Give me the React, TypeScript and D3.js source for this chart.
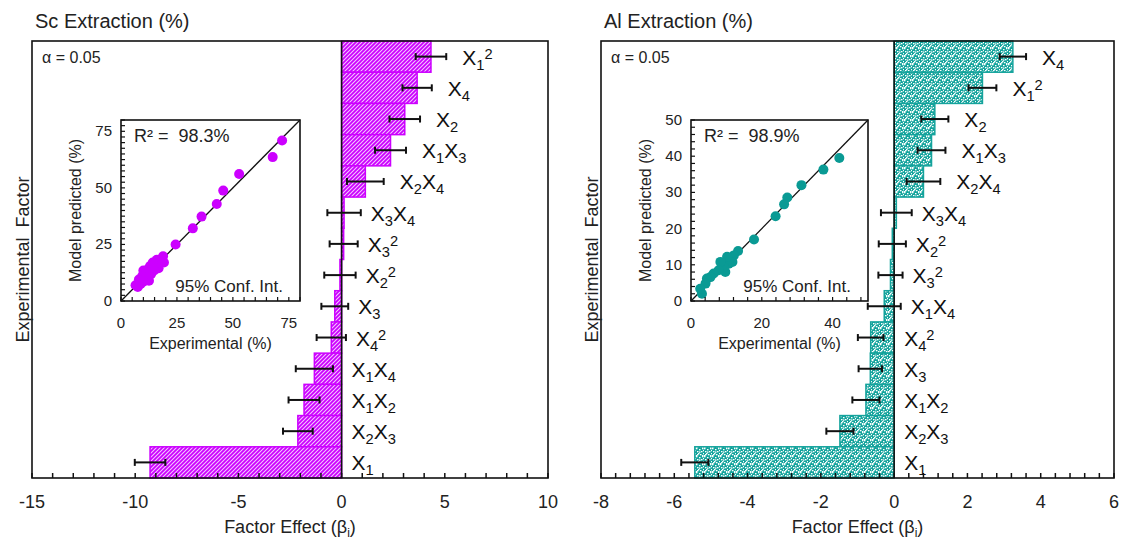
import React, { useEffect, useRef } from "react"
import * as d3 from "d3"

// Sc extraction: factor effects (top to bottom) and 95% half-widths
const scFactors = ["X1^2", "X4", "X2", "X1X3", "X2X4", "X3X4", "X3^2", "X2^2", "X3", "X4^2", "X1X4", "X1X2", "X2X3", "X1"]
const scEffects = [4.33, 3.66, 3.06, 2.37, 1.15, 0.12, 0.1, -0.08, -0.33, -0.5, -1.32, -1.82, -2.12, -9.28]
const scErrors = [0.74, 0.71, 0.74, 0.75, 0.89, 0.81, 0.68, 0.76, 0.65, 0.71, 0.9, 0.75, 0.72, 0.74]

// Al extraction
const alFactors = ["X4", "X1^2", "X2", "X1X3", "X2X4", "X3X4", "X2^2", "X3^2", "X1X4", "X4^2", "X3", "X1X2", "X2X3", "X1"]
const alEffects = [3.24, 2.41, 1.11, 1.02, 0.8, 0.06, -0.05, -0.1, -0.27, -0.64, -0.65, -0.77, -1.48, -5.44]
const alErrors = [0.36, 0.38, 0.37, 0.38, 0.46, 0.42, 0.37, 0.33, 0.45, 0.35, 0.32, 0.37, 0.37, 0.37]

// parity plots (experimental vs model predicted)
const scExp = [72.0, 67.8, 52.8, 45.7, 42.8, 36.0, 32.1, 24.4, 18.8, 19.2, 17.5, 16.8, 16.0, 15.5, 14.8, 14.2, 13.5, 13.0, 12.5, 12.0, 11.5, 10.8, 10.2, 10.0, 9.5, 8.8, 8.0, 7.5, 6.5]
const scPred = [70.9, 63.6, 56.1, 48.8, 42.9, 37.3, 32.1, 25.0, 19.8, 17.0, 16.8, 14.5, 18.2, 16.0, 13.5, 17.0, 12.0, 15.5, 9.0, 14.0, 10.2, 12.5, 8.6, 13.5, 11.0, 7.5, 9.5, 6.2, 7.0]
const alExp = [41.9, 37.4, 31.2, 27.2, 26.3, 23.9, 17.8, 13.3, 12.1, 11.7, 10.7, 10.2, 9.7, 9.3, 8.3, 7.8, 6.4, 5.5, 4.5, 4.1, 3.1, 2.6]
const alPred = [39.5, 36.3, 32.0, 28.6, 26.7, 23.4, 17.0, 13.8, 12.6, 10.8, 10.3, 12.2, 8.0, 9.4, 10.8, 8.5, 7.6, 6.6, 6.2, 4.8, 2.0, 3.4]

const FONT = "'Liberation Sans', Arial, sans-serif"
const INK = "#222"

function factorLabel(text, label, size) {
  const parts = []
  const re = /X(\d)(\^2)?/g
  let m
  while ((m = re.exec(label))) {
    parts.push({ t: "X", s: size, o: 0 })
    parts.push({ t: m[1], s: size * 0.7, o: 5 })
    if (m[2]) parts.push({ t: "2", s: size * 0.7, o: -6 })
  }
  let cur = 0
  parts.forEach(p => {
    text.append("tspan").attr("font-size", p.s).attr("dy", p.o - cur).text(p.t)
    cur = p.o
  })
}

function drawPanel(svg, c) {
  const g = svg.append("g")
  const x = d3.scaleLinear().domain(c.domain).range([c.left, c.right])
  const y = d3.scaleBand().domain(c.factors).range([c.top, c.bottom]).padding(0)

  // bars
  g.selectAll("rect.bar")
    .data(c.effects)
    .join("rect")
    .attr("x", d => x(Math.min(0, d)))
    .attr("y", (d, i) => y(c.factors[i]))
    .attr("width", d => Math.abs(x(d) - x(0)))
    .attr("height", y.bandwidth())
    .attr("fill", `url(#${c.pattern})`)
    .attr("stroke", c.color)
    .attr("stroke-width", 1.5)

  // error bars + factor labels
  c.effects.forEach((d, i) => {
    const cy = y(c.factors[i]) + y.bandwidth() / 2
    const x1 = x(d - c.errors[i])
    const x2 = x(d + c.errors[i])
    const eb = g.append("g").attr("stroke", "#111").attr("stroke-width", 2)
    eb.append("line").attr("x1", x1).attr("x2", x2).attr("y1", cy).attr("y2", cy)
    eb.append("line").attr("x1", x1).attr("x2", x1).attr("y1", cy - 3.5).attr("y2", cy + 3.5)
    eb.append("line").attr("x1", x2).attr("x2", x2).attr("y1", cy - 3.5).attr("y2", cy + 3.5)

    const edge = Math.max(x(0), x(d), x2)
    const lx = edge + (edge - x(0) > 30 ? 16 : 10)
    const t = g.append("text")
      .attr("x", lx)
      .attr("y", cy + 8)
      .attr("fill", "#111")
      .attr("font-family", FONT)
    factorLabel(t, c.factors[i], 21)
  })

  // zero line
  g.append("line")
    .attr("x1", x(0)).attr("x2", x(0))
    .attr("y1", c.top).attr("y2", c.bottom)
    .attr("stroke", "#111").attr("stroke-width", 1.6)

  // minor ticks
  g.selectAll("line.tick")
    .data(c.minor)
    .join("line")
    .attr("x1", d => x(d)).attr("x2", d => x(d))
    .attr("y1", c.bottom).attr("y2", c.bottom - 5)
    .attr("stroke", "#111").attr("stroke-width", 1.5)

  // frame
  g.append("rect")
    .attr("x", c.left).attr("y", c.top)
    .attr("width", c.right - c.left).attr("height", c.bottom - c.top)
    .attr("fill", "none").attr("stroke", "#111").attr("stroke-width", 1.6)

  g.selectAll("text.xt")
    .data(c.ticks)
    .join("text")
    .attr("x", d => x(d))
    .attr("y", c.bottom + 30)
    .attr("text-anchor", "middle")
    .attr("font-family", FONT)
    .attr("font-size", 18)
    .attr("fill", INK)
    .text(d => String(d))

  const xt = g.append("text")
    .attr("x", (c.left + c.right) / 2)
    .attr("y", 533)
    .attr("text-anchor", "middle")
    .attr("font-family", FONT)
    .attr("font-size", 18)
    .attr("fill", INK)
  xt.append("tspan").text("Factor Effect (β")
  xt.append("tspan").attr("font-size", 12).attr("dy", 4).text("i")
  xt.append("tspan").attr("dy", -4).text(")")

  g.append("text")
    .attr("transform", `translate(${c.left - 3},${(c.top + c.bottom) / 2}) rotate(-90)`)
    .attr("text-anchor", "middle")
    .attr("font-family", FONT)
    .attr("font-size", 18)
    .attr("fill", INK)
    .attr("xml:space", "preserve")
    .text("Experimental  Factor")

  g.append("text")
    .attr("x", c.left + 3)
    .attr("y", 28)
    .attr("font-family", FONT)
    .attr("font-size", 20)
    .attr("fill", INK)
    .text(c.title)

  g.append("text")
    .attr("x", c.left + 10)
    .attr("y", 63)
    .attr("font-family", FONT)
    .attr("font-size", 16)
    .attr("fill", INK)
    .text("α = 0.05")

  // inset parity plot
  const s = c.inset
  const ix = d3.scaleLinear().domain([0, s.max]).range([s.x0, s.x1])
  const iy = d3.scaleLinear().domain([0, s.max]).range([s.y1, s.y0])
  const ig = svg.append("g")
  ig.append("rect")
    .attr("x", s.x0).attr("y", s.y0)
    .attr("width", s.x1 - s.x0).attr("height", s.y1 - s.y0)
    .attr("fill", "#fff")
  ig.append("line")
    .attr("x1", ix(0)).attr("y1", iy(0)).attr("x2", ix(s.max)).attr("y2", iy(s.max))
    .attr("stroke", "#111").attr("stroke-width", 1.3)
  ig.selectAll("circle")
    .data(s.exp)
    .join("circle")
    .attr("cx", d => ix(d))
    .attr("cy", (d, i) => iy(s.pred[i]))
    .attr("r", 5)
    .attr("fill", c.dot)
  ig.selectAll("line.mx")
    .data(d3.range(0, s.max + 0.001, s.minorX))
    .join("line")
    .attr("x1", d => ix(d)).attr("x2", d => ix(d))
    .attr("y1", s.y1).attr("y2", s.y1 - 4)
    .attr("stroke", "#111").attr("stroke-width", 1.2)
  ig.selectAll("line.my")
    .data(d3.range(0, s.max + 0.001, s.minorY))
    .join("line")
    .attr("y1", d => iy(d)).attr("y2", d => iy(d))
    .attr("x1", s.x0).attr("x2", s.x0 + 4)
    .attr("stroke", "#111").attr("stroke-width", 1.2)
  ig.append("rect")
    .attr("x", s.x0).attr("y", s.y0)
    .attr("width", s.x1 - s.x0).attr("height", s.y1 - s.y0)
    .attr("fill", "none").attr("stroke", "#111").attr("stroke-width", 1.6)
  ig.selectAll("text.ixt")
    .data(s.xTicks)
    .join("text")
    .attr("x", d => ix(d)).attr("y", s.y1 + 27)
    .attr("text-anchor", "middle")
    .attr("font-family", FONT).attr("font-size", 15).attr("fill", INK)
    .text(d => String(d))
  ig.selectAll("text.iyt")
    .data(s.yTicks)
    .join("text")
    .attr("x", s.x0 - 9).attr("y", d => iy(d) + 5)
    .attr("text-anchor", "end")
    .attr("font-family", FONT).attr("font-size", 15).attr("fill", INK)
    .text(d => String(d))
  ig.append("text")
    .attr("x", (s.x0 + s.x1) / 2).attr("y", s.y1 + 48)
    .attr("text-anchor", "middle")
    .attr("font-family", FONT).attr("font-size", 16).attr("fill", INK)
    .text("Experimental (%)")
  ig.append("text")
    .attr("transform", `translate(${s.x0 - 40},${(s.y0 + s.y1) / 2}) rotate(-90)`)
    .attr("text-anchor", "middle")
    .attr("font-family", FONT).attr("font-size", 16).attr("fill", INK)
    .text("Model predicted (%)")
  ig.append("text")
    .attr("x", s.x0 + 13).attr("y", s.y0 + 22)
    .attr("font-family", FONT).attr("font-size", 18).attr("fill", INK)
    .attr("xml:space", "preserve")
    .text(`R² =  ${s.r2}`)
  ig.append("text")
    .attr("x", s.x1 - 17).attr("y", s.y1 - 9)
    .attr("text-anchor", "end")
    .attr("font-family", FONT).attr("font-size", 17).attr("fill", INK)
    .text("95% Conf. Int.")
}

export default function App() {
  const ref = useRef(null)

  useEffect(() => {
    document.body.style.margin = "0"
    const svg = d3.select(ref.current)
    svg.selectAll("*").remove()

    const defs = svg.append("defs")
    const hatch = defs.append("pattern")
      .attr("id", "hatchSc")
      .attr("width", 4).attr("height", 4)
      .attr("patternUnits", "userSpaceOnUse")
    hatch.append("rect").attr("width", 4).attr("height", 4).attr("fill", "#cc00ff")
    hatch.append("path").attr("d", "M-1,1 l2,-2 M0,4 l4,-4 M3,5 l2,-2")
      .attr("stroke", "#f4c4ff").attr("stroke-width", 1.1)

    const conf = defs.append("pattern")
      .attr("id", "confAl")
      .attr("width", 8).attr("height", 8)
      .attr("patternUnits", "userSpaceOnUse")
    conf.append("rect").attr("width", 8).attr("height", 8).attr("fill", "#14a39c")
    const specks = [[0, 0], [3, 1], [6, 0], [1, 3], [5, 3], [2, 5], [7, 5], [4, 6], [0, 7], [6, 7], [3, 3.5], [7, 2], [1, 6]]
    specks.forEach(([sx, sy]) => {
      conf.append("rect").attr("x", sx).attr("y", sy).attr("width", 1.5).attr("height", 1.3).attr("fill", "#fff")
    })

    drawPanel(svg, {
      left: 32, right: 548, top: 41, bottom: 478,
      domain: [-15, 10],
      ticks: [-15, -10, -5, 0, 5, 10],
      minor: d3.range(-15, 10.001, 1),
      factors: scFactors, effects: scEffects, errors: scErrors,
      pattern: "hatchSc", color: "#cc00ff", dot: "#cc00ff",
      title: "Sc Extraction (%)",
      inset: {
        x0: 121, x1: 300, y0: 120, y1: 301, max: 80,
        xTicks: [0, 25, 50, 75], yTicks: [0, 25, 50, 75],
        minorX: 5, minorY: 2.5,
        exp: scExp, pred: scPred, r2: "98.3%",
      },
    })

    drawPanel(svg, {
      left: 601, right: 1114, top: 41, bottom: 478,
      domain: [-8, 6],
      ticks: [-8, -6, -4, -2, 0, 2, 4, 6],
      minor: d3.range(0, 36).map(i => -8 + i * 0.4),
      factors: alFactors, effects: alEffects, errors: alErrors,
      pattern: "confAl", color: "#14a39c", dot: "#0a9a94",
      title: "Al Extraction (%)",
      inset: {
        x0: 691, x1: 868, y0: 120, y1: 301, max: 50,
        xTicks: [0, 20, 40], yTicks: [0, 10, 20, 30, 40, 50],
        minorX: 4, minorY: 2,
        exp: alExp, pred: alPred, r2: "98.9%",
      },
    })
  }, [])

  return (
    <svg ref={ref} width={1121} height={540} style={{ display: "block", background: "#fff" }} />
  )
}
